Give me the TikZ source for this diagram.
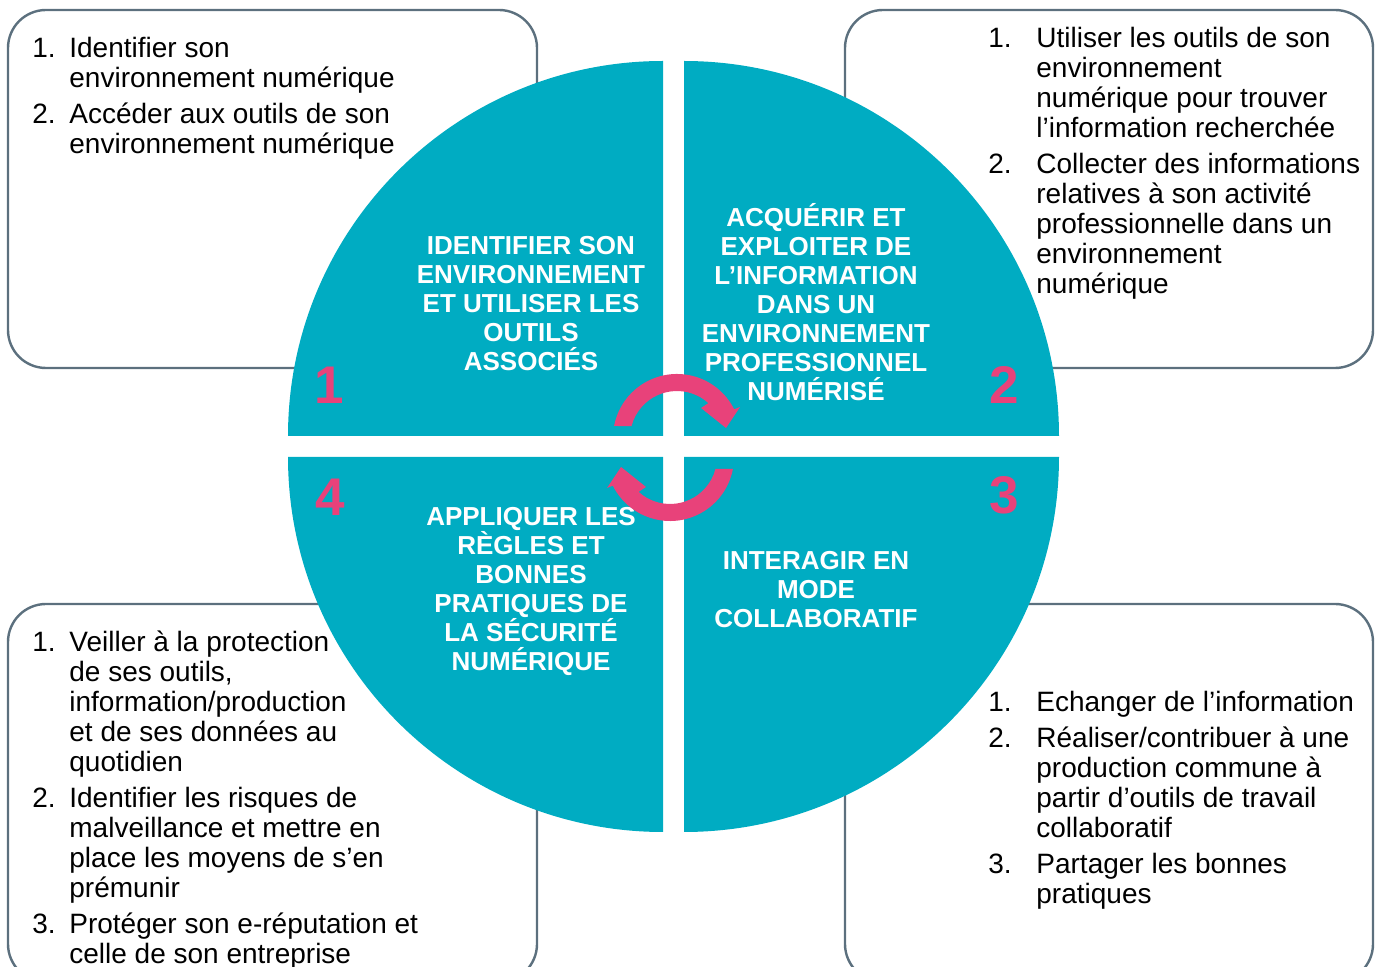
\documentclass[tikz,border=0pt]{standalone}
\usepackage{fontspec}
\setmainfont{Liberation Sans}
\usetikzlibrary{positioning}
\usepackage{xcolor}

\definecolor{quadteal}{RGB}{0,172,194}
\definecolor{turnpink}{RGB}{232,66,122}
\definecolor{boxgray}{RGB}{92,112,126}

\newcommand{\listfont}{\fontsize{14}{15}\selectfont}
\newcommand{\titlefont}{\fontsize{13}{14.5}\selectfont\bfseries}
\newcommand{\numfont}{\fontsize{26.5}{27}\selectfont\bfseries}

\begin{document}
\begin{tikzpicture}[x=0.5pt, y=-0.5pt,
    skillbox/.style={draw=boxgray, line width=1.2pt, rounded corners=19pt},
    quadrant/.style={fill=quadteal},
    skilllist/.style={anchor=base west, inner sep=0pt, font=\listfont, text=black},
    quadtitle/.style={align=center, inner sep=0pt, font=\titlefont, text=white},
    quadnum/.style={inner sep=0pt, font=\numfont, text=turnpink},
    turnarrow/.style={fill=turnpink}]
      \useasboundingbox (0,0) rectangle (1378,967);
      \clip (0,0) rectangle (1378,967);

      % boxes behind the circle
      \draw[skillbox] (8,10) rectangle (537,368);
      \draw[skillbox] (845,10) rectangle (1373,368);
      \draw[skillbox] (8,604) rectangle (537,982);
      \draw[skillbox] (845,604) rectangle (1373,982);

      % the four quadrants
      \fill[quadrant] (663,436) -- (288,436) arc[start angle=180, end angle=270, radius=375] -- cycle;
      \fill[quadrant] (684,436) -- (684,61) arc[start angle=270, end angle=360, radius=375] -- cycle;
      \fill[quadrant] (684,457) -- (1059,457) arc[start angle=0, end angle=90, radius=375] -- cycle;
      \fill[quadrant] (663,457) -- (663,832) arc[start angle=90, end angle=180, radius=375] -- cycle;

      \node[quadtitle] (title1) at (531,304) {IDENTIFIER SON\\ENVIRONNEMENT\\ET UTILISER LES\\OUTILS\\ASSOCIÉS};
      \node[quadtitle] (title2) at (816,302) {ACQUÉRIR ET\\EXPLOITER DE\\L’INFORMATION\\DANS UN\\ENVIRONNEMENT\\PROFESSIONNEL\\NUMÉRISÉ};
      \node[quadtitle] (title3) at (816,590) {INTERAGIR EN\\MODE\\COLLABORATIF};
      \node[quadtitle] (title4) at (531,591) {APPLIQUER LES\\RÈGLES ET\\BONNES\\PRATIQUES DE\\LA SÉCURITÉ\\NUMÉRIQUE};

      \node[quadnum] (num1) at (329,385) {1};
      \node[quadnum] (num2) at (1004,385) {2};
      \node[quadnum] (num3) at (1004,495) {3};
      \node[quadnum] (num4) at (330,497) {4};

      % turning arrows in the middle
      \fill[turnarrow] (614.1,426) arc[start angle=190.8, end angle=333.4, radius=64] -- (740,407) -- (726,428) -- (701,408) -- (708.4,403.1) arc[start angle=312, end angle=194.8, radius=47] -- cycle;
      \fill[turnarrow, rotate around={180:(673.5,447.5)}] (614.1,426) arc[start angle=190.8, end angle=333.4, radius=64] -- (740,407) -- (726,428) -- (701,408) -- (708.4,403.1) arc[start angle=312, end angle=194.8, radius=47] -- cycle;

      % skill lists
      \node[skilllist] (list1) at (32,58) {\begin{tabular}[t]{@{}p{18.5pt}@{}l@{}}
        1. & Identifier son\\
           & environnement numérique\\[3pt]
        2. & Accéder aux outils de son\\
           & environnement numérique
      \end{tabular}};
      \node[skilllist] (list2) at (988,48) {\begin{tabular}[t]{@{}p{24pt}@{}l@{}}
        1. & Utiliser les outils de son\\
           & environnement\\
           & numérique pour trouver\\
           & l’information recherchée\\[3pt]
        2. & Collecter des informations\\
           & relatives à son activité\\
           & professionnelle dans un\\
           & environnement\\
           & numérique
      \end{tabular}};
      \node[skilllist] (list3) at (988,712) {\begin{tabular}[t]{@{}p{24pt}@{}l@{}}
        1. & Echanger de l’information\\[3pt]
        2. & Réaliser/contribuer à une\\
           & production commune à\\
           & partir d’outils de travail\\
           & collaboratif\\[3pt]
        3. & Partager les bonnes\\
           & pratiques
      \end{tabular}};
      \node[skilllist] (list4) at (32,652) {\begin{tabular}[t]{@{}p{18.5pt}@{}l@{}}
        1. & Veiller à la protection\\
           & de ses outils,\\
           & information/production\\
           & et de ses données au\\
           & quotidien\\[3pt]
        2. & Identifier les risques de\\
           & malveillance et mettre en\\
           & place les moyens de s’en\\
           & prémunir\\[3pt]
        3. & Protéger son e-réputation et\\
           & celle de son entreprise
      \end{tabular}};

    \end{tikzpicture}
\end{document}
